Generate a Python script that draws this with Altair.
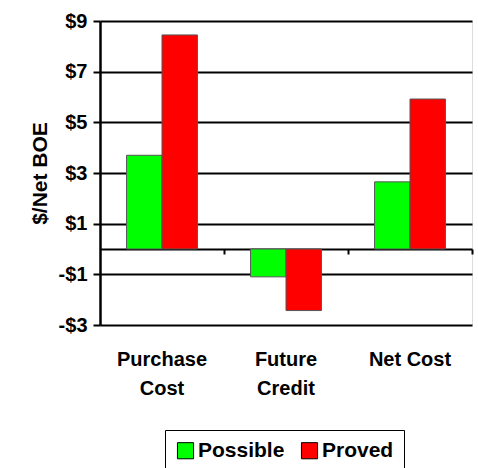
import altair as alt
import pandas as pd

categories = ["Purchase|Cost", "Future|Credit", "Net Cost"]
series = ["Possible", "Proved"]
possible = [3.7, -1.1, 2.65]
proved = [8.45, -2.43, 5.92]
colors = ["#00FF00", "#FF0000"]
y_ticks = [-3, -1, 1, 3, 5, 7, 9]

rows = []
for c, a, b in zip(categories, possible, proved):
    rows.append({"cat": c, "series": "Possible", "value": a})
    rows.append({"cat": c, "series": "Proved", "value": b})
df = pd.DataFrame(rows)

FONT = "Liberation Sans"

xscale = alt.Scale(domain=categories, paddingInner=0, paddingOuter=0)
yscale = alt.Scale(domain=[-3, 9], nice=False, zero=False)

bars = alt.Chart(df).mark_bar(stroke="#555555", strokeWidth=1).encode(
    x=alt.X("cat:N", scale=xscale, sort=categories,
            axis=alt.Axis(orient="bottom", title=None, labelAngle=0, domain=False, ticks=False,
                          labelExpr="split(datum.label, '|')", labelFont=FONT, labelFontSize=20,
                          labelFontWeight="bold", labelColor="black", labelPadding=24,
                          labelLineHeight=29, labelBaseline="top")),
    xOffset=alt.XOffset("series:N", sort=series,
                        scale=alt.Scale(paddingInner=0, paddingOuter=0.75)),
    y=alt.Y("value:Q", scale=yscale,
            axis=alt.Axis(values=y_ticks, title="$/Net BOE", grid=True, gridColor="black",
                          gridWidth=2, gridOpacity=1, domainColor="black", domainWidth=2.5,
                          tickColor="black", tickSize=7, tickWidth=2,
                          labelExpr="datum.value < 0 ? '-$' + abs(datum.value) : '$' + datum.value",
                          labelFont=FONT, labelFontSize=20, labelFontWeight="bold",
                          labelColor="black", labelPadding=6,
                          titleFont=FONT, titleFontSize=21, titleFontWeight="bold",
                          titleColor="black", titlePadding=8)),
    color=alt.Color("series:N", sort=series,
                    scale=alt.Scale(domain=series, range=colors),
                    legend=alt.Legend(title=None, orient="none", legendX=65, legendY=409,
                                      direction="horizontal", symbolType="square",
                                      symbolSize=260, symbolStrokeColor="black",
                                      symbolStrokeWidth=1, labelFont=FONT, labelFontSize=21,
                                      labelFontWeight="bold", labelColor="black",
                                      labelOffset=2, columnPadding=14, padding=10,
                                      strokeColor="black", fillColor="white")),
)

zero_axis = alt.Chart(pd.DataFrame({"cat": categories})).mark_point(opacity=0).encode(
    x=alt.X("cat:N", scale=xscale, sort=categories,
            axis=alt.Axis(orient="bottom", title=None, labels=False, domain=True,
                          domainColor="black", domainWidth=2, ticks=True, tickColor="black",
                          tickSize=5, tickWidth=2, bandPosition=1, offset=-76, grid=False)),
)

chart = alt.layer(bars, zero_axis).resolve_axis(x="independent").properties(
    width=372, height=304,
    autosize=alt.AutoSizeParams(type="none"),
    padding={"left": 100, "top": 21, "right": 6, "bottom": 143},
).configure_view(stroke=None).configure(background="white")

chart.save("out.html", embed_options={"renderer": "svg", "actions": False})
